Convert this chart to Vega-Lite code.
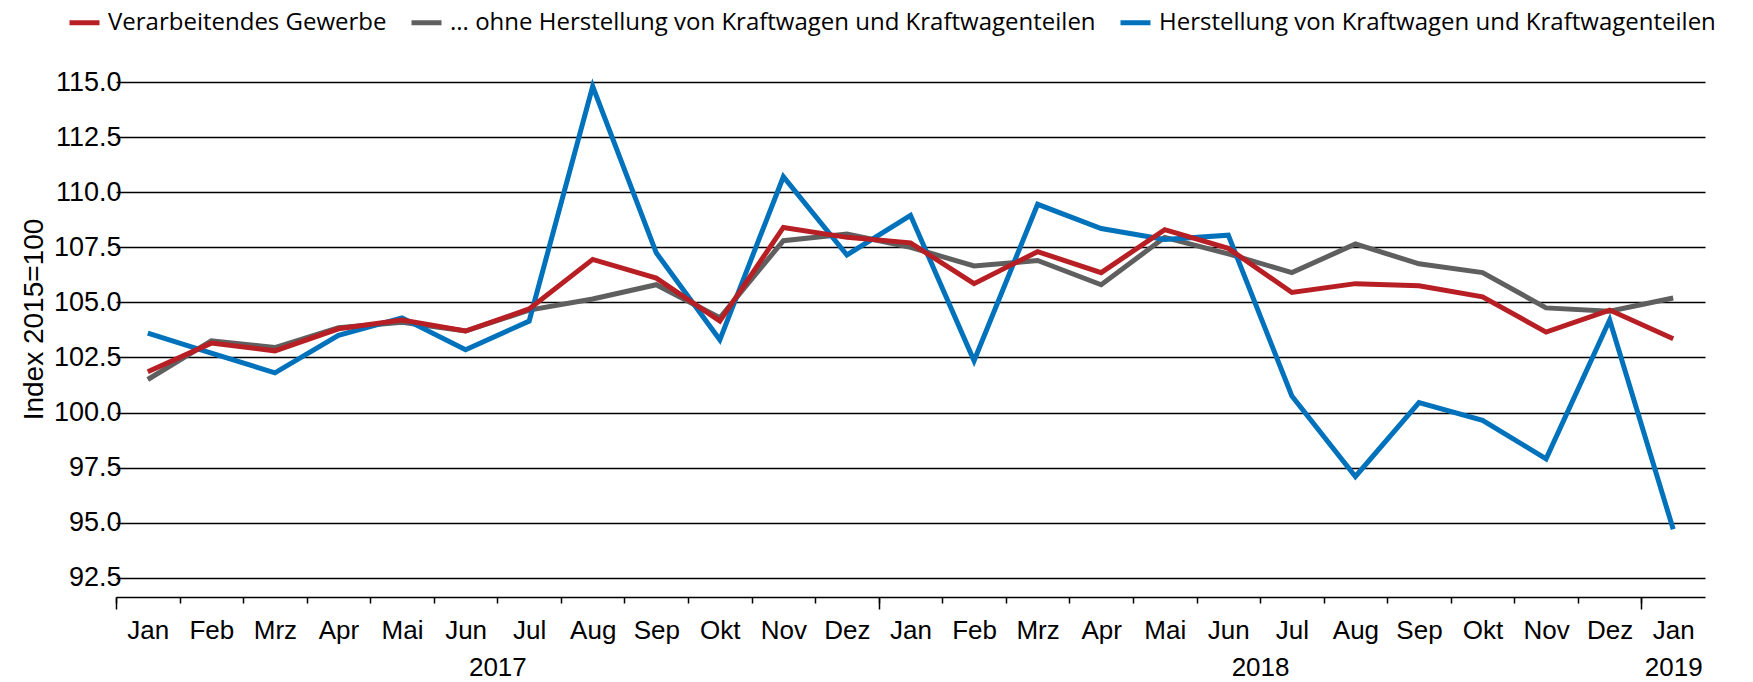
{
  "$schema": "https://vega.github.io/schema/vega-lite/v6.json",
  "width": 1589,
  "height": 515,
  "autosize": {"type": "none"},
  "padding": {"left": 116, "top": 82, "right": 48, "bottom": 85},
  "config": {"view": {"stroke": null}, "font": "Liberation Sans"},
  "datasets": {
    "series": [
      {"t": 0, "s": "... ohne Herstellung von Kraftwagen und Kraftwagenteilen", "v": 101.5},
      {"t": 1, "s": "... ohne Herstellung von Kraftwagen und Kraftwagenteilen", "v": 103.25},
      {"t": 2, "s": "... ohne Herstellung von Kraftwagen und Kraftwagenteilen", "v": 102.95},
      {"t": 3, "s": "... ohne Herstellung von Kraftwagen und Kraftwagenteilen", "v": 103.85},
      {"t": 4, "s": "... ohne Herstellung von Kraftwagen und Kraftwagenteilen", "v": 104.1},
      {"t": 5, "s": "... ohne Herstellung von Kraftwagen und Kraftwagenteilen", "v": 103.7},
      {"t": 6, "s": "... ohne Herstellung von Kraftwagen und Kraftwagenteilen", "v": 104.65},
      {"t": 7, "s": "... ohne Herstellung von Kraftwagen und Kraftwagenteilen", "v": 105.15},
      {"t": 8, "s": "... ohne Herstellung von Kraftwagen und Kraftwagenteilen", "v": 105.8},
      {"t": 9, "s": "... ohne Herstellung von Kraftwagen und Kraftwagenteilen", "v": 104.3},
      {"t": 10, "s": "... ohne Herstellung von Kraftwagen und Kraftwagenteilen", "v": 107.8},
      {"t": 11, "s": "... ohne Herstellung von Kraftwagen und Kraftwagenteilen", "v": 108.1},
      {"t": 12, "s": "... ohne Herstellung von Kraftwagen und Kraftwagenteilen", "v": 107.5},
      {"t": 13, "s": "... ohne Herstellung von Kraftwagen und Kraftwagenteilen", "v": 106.65},
      {"t": 14, "s": "... ohne Herstellung von Kraftwagen und Kraftwagenteilen", "v": 106.9},
      {"t": 15, "s": "... ohne Herstellung von Kraftwagen und Kraftwagenteilen", "v": 105.8},
      {"t": 16, "s": "... ohne Herstellung von Kraftwagen und Kraftwagenteilen", "v": 107.95},
      {"t": 17, "s": "... ohne Herstellung von Kraftwagen und Kraftwagenteilen", "v": 107.2},
      {"t": 18, "s": "... ohne Herstellung von Kraftwagen und Kraftwagenteilen", "v": 106.35},
      {"t": 19, "s": "... ohne Herstellung von Kraftwagen und Kraftwagenteilen", "v": 107.65},
      {"t": 20, "s": "... ohne Herstellung von Kraftwagen und Kraftwagenteilen", "v": 106.75},
      {"t": 21, "s": "... ohne Herstellung von Kraftwagen und Kraftwagenteilen", "v": 106.35},
      {"t": 22, "s": "... ohne Herstellung von Kraftwagen und Kraftwagenteilen", "v": 104.75},
      {"t": 23, "s": "... ohne Herstellung von Kraftwagen und Kraftwagenteilen", "v": 104.6},
      {"t": 24, "s": "... ohne Herstellung von Kraftwagen und Kraftwagenteilen", "v": 105.2},
      {"t": 0, "s": "Herstellung von Kraftwagen und Kraftwagenteilen", "v": 103.6},
      {"t": 1, "s": "Herstellung von Kraftwagen und Kraftwagenteilen", "v": 102.7},
      {"t": 2, "s": "Herstellung von Kraftwagen und Kraftwagenteilen", "v": 101.8},
      {"t": 3, "s": "Herstellung von Kraftwagen und Kraftwagenteilen", "v": 103.5},
      {"t": 4, "s": "Herstellung von Kraftwagen und Kraftwagenteilen", "v": 104.3},
      {"t": 5, "s": "Herstellung von Kraftwagen und Kraftwagenteilen", "v": 102.85},
      {"t": 6, "s": "Herstellung von Kraftwagen und Kraftwagenteilen", "v": 104.15},
      {"t": 7, "s": "Herstellung von Kraftwagen und Kraftwagenteilen", "v": 114.8},
      {"t": 8, "s": "Herstellung von Kraftwagen und Kraftwagenteilen", "v": 107.25},
      {"t": 9, "s": "Herstellung von Kraftwagen und Kraftwagenteilen", "v": 103.3},
      {"t": 10, "s": "Herstellung von Kraftwagen und Kraftwagenteilen", "v": 110.7},
      {"t": 11, "s": "Herstellung von Kraftwagen und Kraftwagenteilen", "v": 107.15},
      {"t": 12, "s": "Herstellung von Kraftwagen und Kraftwagenteilen", "v": 108.95},
      {"t": 13, "s": "Herstellung von Kraftwagen und Kraftwagenteilen", "v": 102.35},
      {"t": 14, "s": "Herstellung von Kraftwagen und Kraftwagenteilen", "v": 109.45},
      {"t": 15, "s": "Herstellung von Kraftwagen und Kraftwagenteilen", "v": 108.35},
      {"t": 16, "s": "Herstellung von Kraftwagen und Kraftwagenteilen", "v": 107.85},
      {"t": 17, "s": "Herstellung von Kraftwagen und Kraftwagenteilen", "v": 108.05},
      {"t": 18, "s": "Herstellung von Kraftwagen und Kraftwagenteilen", "v": 100.75},
      {"t": 19, "s": "Herstellung von Kraftwagen und Kraftwagenteilen", "v": 97.1},
      {"t": 20, "s": "Herstellung von Kraftwagen und Kraftwagenteilen", "v": 100.45},
      {"t": 21, "s": "Herstellung von Kraftwagen und Kraftwagenteilen", "v": 99.65},
      {"t": 22, "s": "Herstellung von Kraftwagen und Kraftwagenteilen", "v": 97.9},
      {"t": 23, "s": "Herstellung von Kraftwagen und Kraftwagenteilen", "v": 104.2},
      {"t": 24, "s": "Herstellung von Kraftwagen und Kraftwagenteilen", "v": 94.7},
      {"t": 0, "s": "Verarbeitendes Gewerbe", "v": 101.85},
      {"t": 1, "s": "Verarbeitendes Gewerbe", "v": 103.15},
      {"t": 2, "s": "Verarbeitendes Gewerbe", "v": 102.8},
      {"t": 3, "s": "Verarbeitendes Gewerbe", "v": 103.8},
      {"t": 4, "s": "Verarbeitendes Gewerbe", "v": 104.2},
      {"t": 5, "s": "Verarbeitendes Gewerbe", "v": 103.7},
      {"t": 6, "s": "Verarbeitendes Gewerbe", "v": 104.7},
      {"t": 7, "s": "Verarbeitendes Gewerbe", "v": 106.95},
      {"t": 8, "s": "Verarbeitendes Gewerbe", "v": 106.1},
      {"t": 9, "s": "Verarbeitendes Gewerbe", "v": 104.15},
      {"t": 10, "s": "Verarbeitendes Gewerbe", "v": 108.4},
      {"t": 11, "s": "Verarbeitendes Gewerbe", "v": 107.95},
      {"t": 12, "s": "Verarbeitendes Gewerbe", "v": 107.7},
      {"t": 13, "s": "Verarbeitendes Gewerbe", "v": 105.85},
      {"t": 14, "s": "Verarbeitendes Gewerbe", "v": 107.3},
      {"t": 15, "s": "Verarbeitendes Gewerbe", "v": 106.35},
      {"t": 16, "s": "Verarbeitendes Gewerbe", "v": 108.3},
      {"t": 17, "s": "Verarbeitendes Gewerbe", "v": 107.45},
      {"t": 18, "s": "Verarbeitendes Gewerbe", "v": 105.45},
      {"t": 19, "s": "Verarbeitendes Gewerbe", "v": 105.85},
      {"t": 20, "s": "Verarbeitendes Gewerbe", "v": 105.75},
      {"t": 21, "s": "Verarbeitendes Gewerbe", "v": 105.25},
      {"t": 22, "s": "Verarbeitendes Gewerbe", "v": 103.65},
      {"t": 23, "s": "Verarbeitendes Gewerbe", "v": 104.65},
      {"t": 24, "s": "Verarbeitendes Gewerbe", "v": 103.35}
    ]
  },
  "data": {"name": "series"},
  "layer": [
    {
      "mark": {"type": "line", "strokeWidth": 5, "clip": false},
      "encoding": {
        "x": {
          "field": "t", "type": "quantitative",
          "scale": {"domain": [-0.5, 24.5], "nice": false, "zero": false},
          "axis": {
            "orient": "bottom",
            "values": [0,1,2,3,4,5,6,7,8,9,10,11,12,13,14,15,16,17,18,19,20,21,22,23,24],
            "labelExpr": "['Jan','Feb','Mrz','Apr','Mai','Jun','Jul','Aug','Sep','Okt','Nov','Dez'][datum.value % 12]",
            "ticks": false, "grid": false, "domain": true, "domainColor": "#000", "domainWidth": 1.5,
            "labelFontSize": 26, "labelColor": "#000", "labelPadding": 20,
            "labelFlush": false, "labelOverlap": false, "labelBound": false, "title": null
          }
        },
        "y": {
          "field": "v", "type": "quantitative",
          "scale": {"domain": [91.63, 115], "nice": false, "zero": false},
          "axis": {
            "values": [92.5, 95, 97.5, 100, 102.5, 105, 107.5, 110, 112.5, 115],
            "format": ".1f", "grid": true, "gridColor": "#000", "gridWidth": 1.3, "gridOpacity": 1,
            "domain": false, "ticks": false, "labelPadding": -5,
            "labelFontSize": 27, "labelColor": "#000", "labelFlush": false, "labelOverlap": false,
            "title": "Index 2015=100", "titleFontSize": 28, "titleFontWeight": "normal",
            "titleColor": "#000", "titlePadding": 5, "titleY": 237
          }
        },
        "color": {
          "field": "s", "type": "nominal",
          "scale": {
            "domain": ["Verarbeitendes Gewerbe", "... ohne Herstellung von Kraftwagen und Kraftwagenteilen", "Herstellung von Kraftwagen und Kraftwagenteilen"],
            "range": ["#b71f24", "#5f5f5f", "#0072bb"]
          },
          "legend": {
            "orient": "none", "legendX": -49, "legendY": -77, "direction": "horizontal",
            "title": null, "symbolType": "stroke", "symbolSize": 900, "symbolStrokeWidth": 5,
            "labelFontSize": 24, "labelFont": "Open Sans", "labelColor": "#000",
            "labelOffset": 6, "columnPadding": 14, "labelLimit": 1000
          }
        }
      }
    },
    {
      "mark": {"type": "point", "opacity": 0},
      "encoding": {
        "x": {
          "field": "t", "type": "quantitative",
          "axis": {
            "orient": "bottom",
            "values": [-0.5,0.5,1.5,2.5,3.5,4.5,5.5,6.5,7.5,8.5,9.5,10.5,11.5,12.5,13.5,14.5,15.5,16.5,17.5,18.5,19.5,20.5,21.5,22.5,23.5],
            "labels": false, "ticks": true, "tickSize": 6, "tickColor": "#000", "tickWidth": 1.5,
            "domain": false, "grid": false, "title": null
          }
        }
      }
    },
    {
      "mark": {"type": "point", "opacity": 0},
      "encoding": {
        "x": {
          "field": "t", "type": "quantitative",
          "axis": {
            "orient": "bottom",
            "values": [-0.5, 11.5, 23.5],
            "labels": false, "ticks": true, "tickSize": 12, "tickColor": "#000", "tickWidth": 1.5,
            "domain": false, "grid": false, "title": null
          }
        }
      }
    },
    {
      "mark": {"type": "point", "opacity": 0},
      "encoding": {
        "x": {
          "field": "t", "type": "quantitative",
          "axis": {
            "orient": "bottom",
            "values": [5.5, 17.5, 24],
            "labelExpr": "datum.value < 11.5 ? '2017' : (datum.value < 23.5 ? '2018' : '2019')",
            "ticks": false, "domain": false, "grid": false, "labelPadding": 57,
            "labelFontSize": 26, "labelColor": "#000", "labelFlush": false, "labelOverlap": false,
            "labelBound": false, "title": null
          }
        }
      }
    }
  ],
  "resolve": {"axis": {"x": "independent"}}
}
